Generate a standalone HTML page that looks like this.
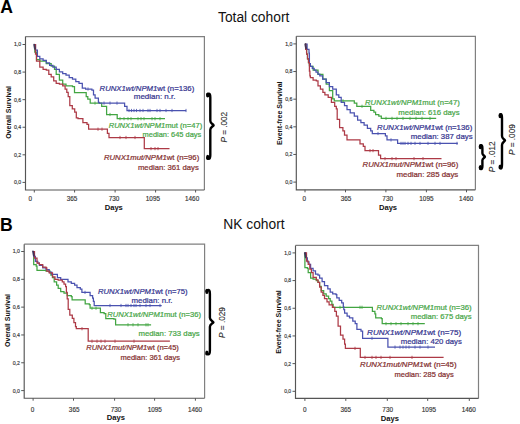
<!DOCTYPE html>
<html><head><meta charset="utf-8"><title>Figure</title>
<style>
html,body{margin:0;padding:0;background:#fff;}
body{width:520px;height:424px;overflow:hidden;}
svg{display:block;}
text{font-family:"Liberation Sans",sans-serif;}
.tk{font-size:6.4px;fill:#333;stroke:#333;stroke-width:0.15px;}
.days{font-size:7.6px;font-weight:bold;fill:#111;}
.ylab{font-size:7px;font-weight:bold;fill:#111;}
.lg{font-size:7.6px;stroke-width:0.22px;}
.pv{font-size:8.2px;fill:#2a2a2a;stroke:#2a2a2a;stroke-width:0.1px;}
.pl{font-size:17.6px;font-weight:bold;fill:#000;}
.ti{font-size:13.8px;fill:#111;}
</style></head>
<body>
<svg width="520" height="424" viewBox="0 0 520 424">
<rect width="520" height="424" fill="#fff"/>
<text x="0.3" y="12.9" class="pl">A</text>
<text x="0.1" y="231.0" class="pl">B</text>
<text x="218" y="21.5" class="ti">Total cohort</text>
<text x="223.3" y="228.5" class="ti">NK cohort</text>
<path d="M25.5 36.6H204.4V190" fill="none" stroke="#808080" stroke-width="1.2"/>
<path d="M25.5 36.6V190H204.4" fill="none" stroke="#555555" stroke-width="1.15"/>
<path d="M22.5 44.5H25.5" stroke="#555555" stroke-width="1"/>
<text x="21.2" y="46.4" text-anchor="end" class="tk" style="font-size:5.2px">1,0</text>
<path d="M22.5 72.08H25.5" stroke="#555555" stroke-width="1"/>
<text x="21.2" y="73.98" text-anchor="end" class="tk" style="font-size:5.2px">0,8</text>
<path d="M22.5 99.66H25.5" stroke="#555555" stroke-width="1"/>
<text x="21.2" y="101.56" text-anchor="end" class="tk" style="font-size:5.2px">0,6</text>
<path d="M22.5 127.24H25.5" stroke="#555555" stroke-width="1"/>
<text x="21.2" y="129.14" text-anchor="end" class="tk" style="font-size:5.2px">0,4</text>
<path d="M22.5 154.82H25.5" stroke="#555555" stroke-width="1"/>
<text x="21.2" y="156.72" text-anchor="end" class="tk" style="font-size:5.2px">0,2</text>
<path d="M22.5 182.4H25.5" stroke="#555555" stroke-width="1"/>
<text x="21.2" y="184.3" text-anchor="end" class="tk" style="font-size:5.2px">0,0</text>
<path d="M34.3 190V192.5" stroke="#555555" stroke-width="1"/>
<text x="30.4" y="200.6" text-anchor="middle" class="tk">0</text>
<path d="M74.6 190V192.5" stroke="#555555" stroke-width="1"/>
<text x="72" y="200.6" text-anchor="middle" class="tk">365</text>
<path d="M115.1 190V192.5" stroke="#555555" stroke-width="1"/>
<text x="114" y="200.6" text-anchor="middle" class="tk">730</text>
<path d="M155.6 190V192.5" stroke="#555555" stroke-width="1"/>
<text x="152.9" y="200.6" text-anchor="middle" class="tk">1095</text>
<path d="M195.6 190V192.5" stroke="#555555" stroke-width="1"/>
<text x="192.1" y="200.6" text-anchor="middle" class="tk">1460</text>
<text x="113.75" y="209.6" text-anchor="middle" class="days">Days</text>
<text transform="translate(11 112.4) rotate(-90)" text-anchor="middle" class="ylab">Overall Survival</text>
<path d="M34.3 44.6H34.8V52H36.5V59.6H39.8V61.2H46.3V63.7H51.2V66.2H54.5V69.4H56.2V74.3H59.4V80H62.7V84.1H66V85.8H72.5V86.6H74.5V92.5H84.5H86.2V96.5H87.8V99H90.2V103.1H100.9H101.7V106.3H105H106.6V114.5H116.4H117.2V118.7H165" fill="none" stroke="#42a542" stroke-width="1.25"/>
<path d="M34.3 44.6H35.5V50H37.4V56.3H39.8V58.8H43.1V60.4H46.3V62.9H49.6V65.3H52.9V67H56.2V69.4H59.4V71.9H62.7V73.5H66V75.1H69.2V77.6H72.5V79.2H75.8V81.7H79V83.3H82.3V88.2H85.6V89H90.5H91.9V90H93.5V94.9H95.1V98.2H98.4V102.3H99.2V103.1H123.7H124.6V106.3H127V110.5H186.2" fill="none" stroke="#4a52b0" stroke-width="1.25"/>
<path d="M34.3 44.6H35.5V54H36.5V61.2H39.8V67H43.1V69.4H46.3V70.2H48.8V74.3H51.2V76.8H53.7V80.9H56.2V83.3H59.4V84.1H62.7V85.8H65.1V89H66.8V92.3H68.2V96.5H69.8V105.5H72.3V108.8H74.7V112.1H76.3V117.8H78V118.6H82.9V122.7H87V124.3H88.6V129.2H105.8H107.4V133.3H109V137.5H143.8H144.3V148.6H169.5" fill="none" stroke="#ad3a46" stroke-width="1.25"/>
<path d="M34.2 44.8L35 48.8" stroke="#3a2f55" stroke-width="2" stroke-linecap="round" opacity="0.85"/>
<path d="M120 117.1v3.2M124 117.1v3.2M128 117.1v3.2M131 117.1v3.2M138 117.1v3.2M141 117.1v3.2M144 117.1v3.2M152 117.1v3.2M155 117.1v3.2M160 117.1v3.2M110 112.9v3.2M95 101.5v3.2" stroke="#42a542" stroke-width="0.9" opacity="0.9"/>
<path d="M129 108.9v3.2M131.5 108.9v3.2M134 108.9v3.2M136.5 108.9v3.2M140 108.9v3.2M143 108.9v3.2M148 108.9v3.2M150 108.9v3.2M157 108.9v3.2M160 108.9v3.2M166 108.9v3.2M172 108.9v3.2M186 108.9v3.2M88 87.4v3.2M104 101.5v3.2M110 101.5v3.2M117 101.5v3.2" stroke="#4a52b0" stroke-width="0.9" opacity="0.9"/>
<path d="M120 135.9v3.2M126 135.9v3.2M135 135.9v3.2M151 147v3.2M155 147v3.2M158 147v3.2M98 127.6v3.2M102 127.6v3.2" stroke="#ad3a46" stroke-width="0.9" opacity="0.9"/>
<path d="M296.3 36.3H475.4V189.8" fill="none" stroke="#808080" stroke-width="1.2"/>
<path d="M296.3 36.3V189.8H475.4" fill="none" stroke="#555555" stroke-width="1.15"/>
<path d="M293.3 43.9H296.3" stroke="#555555" stroke-width="1"/>
<text x="292.4" y="45.8" text-anchor="end" class="tk" style="font-size:5.2px">1,0</text>
<path d="M293.3 71.54H296.3" stroke="#555555" stroke-width="1"/>
<text x="292.4" y="73.44" text-anchor="end" class="tk" style="font-size:5.2px">0,8</text>
<path d="M293.3 99.18H296.3" stroke="#555555" stroke-width="1"/>
<text x="292.4" y="101.08" text-anchor="end" class="tk" style="font-size:5.2px">0,6</text>
<path d="M293.3 126.82H296.3" stroke="#555555" stroke-width="1"/>
<text x="292.4" y="128.72" text-anchor="end" class="tk" style="font-size:5.2px">0,4</text>
<path d="M293.3 154.46H296.3" stroke="#555555" stroke-width="1"/>
<text x="292.4" y="156.36" text-anchor="end" class="tk" style="font-size:5.2px">0,2</text>
<path d="M293.3 182.1H296.3" stroke="#555555" stroke-width="1"/>
<text x="292.4" y="184" text-anchor="end" class="tk" style="font-size:5.2px">0,0</text>
<path d="M305 189.8V192.3" stroke="#555555" stroke-width="1"/>
<text x="304.4" y="200.6" text-anchor="middle" class="tk">0</text>
<path d="M345.5 189.8V192.3" stroke="#555555" stroke-width="1"/>
<text x="346" y="200.6" text-anchor="middle" class="tk">365</text>
<path d="M385.9 189.8V192.3" stroke="#555555" stroke-width="1"/>
<text x="387.7" y="200.6" text-anchor="middle" class="tk">730</text>
<path d="M426.4 189.8V192.3" stroke="#555555" stroke-width="1"/>
<text x="426.4" y="200.6" text-anchor="middle" class="tk">1095</text>
<path d="M466.5 189.8V192.3" stroke="#555555" stroke-width="1"/>
<text x="466.2" y="200.6" text-anchor="middle" class="tk">1460</text>
<text x="388" y="209.6" text-anchor="middle" class="days">Days</text>
<text transform="translate(281.7 113.2) rotate(-90)" text-anchor="middle" class="ylab">Event-free Survival</text>
<path d="M305.2 44.2H305.7V49.4H306.6V54.2H307.5V58.9H308.5V62.6H309.4V65.5H310.4V66.4H313.1V70.2H318V74.3H322.9V79.2H326.2V84.1H329.4V90.7H332.7V98.8H334.3V100.8H352.7H354.3V103.1H356.8V106.3H369H370.7V110.4H373.9V112.1H375.6V114.5H378.8V116.2H381.3V118.4H436.2" fill="none" stroke="#42a542" stroke-width="1.25"/>
<path d="M305.2 44.2H307.1V49.4H309V53.2H309.4V55.1V63.6H310.4V66.4H312.3V68.3H314.2V70.2H316V72.1H317.9V74H319.8V75.8H322.6V79.2H326.2V82.5H329.4V86.6H332.7V89H336.3V94.9H338.8V97.4H341.2V102.3H344.5V105.5H347V109.6H350.2V112.9H354.3V116.2H357.6V120.2H360.9V122.7H364.1V125.1H367.4V128.4H370.7V130.9H372.3V133.5H383.7H385.4V135.8H387V139.9H396H397.6V143.4H457.8" fill="none" stroke="#4a52b0" stroke-width="1.25"/>
<path d="M305.2 44.2H305.7V49.4H306.6V54.2H307.5V58.9H308.5V62.6H309.4V65.5V71.1H309.9V75.8H310.4V77.7H313.1V80H316.3V80.9H318V85.8H320.4V89H322.9V92.3H324.9V94.9H328.2V97.4H331.4V102.3H334.7V106.3H336.3V108.8H337.2V119.4H339.6V127.6H342.9V130.9H344.5V135H347V139.9H359.2H360V143.9H363.3V146.4H365V150.6H376.4H378.5V155H380.6V158.6H441.5" fill="none" stroke="#ad3a46" stroke-width="1.25"/>
<path d="M305.3 44.3L306.1 48.3" stroke="#3a2f55" stroke-width="2" stroke-linecap="round" opacity="0.85"/>
<path d="M386 116.8v3.2M392 116.8v3.2M397 116.8v3.2M403 116.8v3.2M410 116.8v3.2M416 116.8v3.2M422 116.8v3.2M430 116.8v3.2M362 104.7v3.2M343 99.2v3.2" stroke="#42a542" stroke-width="0.9" opacity="0.9"/>
<path d="M401 141.8v3.2M403 141.8v3.2M405 141.8v3.2M408 141.8v3.2M411 141.8v3.2M415 141.8v3.2M420 141.8v3.2M428 141.8v3.2M435 141.8v3.2M440 141.8v3.2M457 141.8v3.2M391 138.3v3.2M378 131.9v3.2" stroke="#4a52b0" stroke-width="0.9" opacity="0.9"/>
<path d="M385 157v3.2M392 157v3.2M396 157v3.2M414 157v3.2M423 157v3.2M370 149v3.2M373 149v3.2" stroke="#ad3a46" stroke-width="0.9" opacity="0.9"/>
<path d="M24.2 244.2H204.6V398.2" fill="none" stroke="#808080" stroke-width="1.2"/>
<path d="M24.2 244.2V398.2H204.6" fill="none" stroke="#555555" stroke-width="1.15"/>
<path d="M21.2 251.5H24.2" stroke="#555555" stroke-width="1"/>
<text x="19.9" y="253.4" text-anchor="end" class="tk" style="font-size:5.2px">1,0</text>
<path d="M21.2 279.32H24.2" stroke="#555555" stroke-width="1"/>
<text x="19.9" y="281.22" text-anchor="end" class="tk" style="font-size:5.2px">0,8</text>
<path d="M21.2 307.14H24.2" stroke="#555555" stroke-width="1"/>
<text x="19.9" y="309.04" text-anchor="end" class="tk" style="font-size:5.2px">0,6</text>
<path d="M21.2 334.96H24.2" stroke="#555555" stroke-width="1"/>
<text x="19.9" y="336.86" text-anchor="end" class="tk" style="font-size:5.2px">0,4</text>
<path d="M21.2 362.78H24.2" stroke="#555555" stroke-width="1"/>
<text x="19.9" y="364.68" text-anchor="end" class="tk" style="font-size:5.2px">0,2</text>
<path d="M21.2 390.6H24.2" stroke="#555555" stroke-width="1"/>
<text x="19.9" y="392.5" text-anchor="end" class="tk" style="font-size:5.2px">0,0</text>
<path d="M33.1 398.2V400.7" stroke="#555555" stroke-width="1"/>
<text x="32.6" y="411.7" text-anchor="middle" class="tk">0</text>
<path d="M73.5 398.2V400.7" stroke="#555555" stroke-width="1"/>
<text x="74.2" y="411.7" text-anchor="middle" class="tk">365</text>
<path d="M114.6 398.2V400.7" stroke="#555555" stroke-width="1"/>
<text x="116" y="411.7" text-anchor="middle" class="tk">730</text>
<path d="M154.6 398.2V400.7" stroke="#555555" stroke-width="1"/>
<text x="154.8" y="411.7" text-anchor="middle" class="tk">1095</text>
<path d="M195.4 398.2V400.7" stroke="#555555" stroke-width="1"/>
<text x="195" y="411.7" text-anchor="middle" class="tk">1460</text>
<text x="115.9" y="420.4" text-anchor="middle" class="days">Days</text>
<text transform="translate(10.4 320.5) rotate(-90)" text-anchor="middle" class="ylab">Overall Survival</text>
<path d="M32.9 251.5H33.7V264.6H36.2V266.2H37V270.3H42.7H46V271.2H50.1V272.8H50.9V275.2H52.5V277.7H54.2V281.8H56.6V285H58.2V288.3H60.7V291.6H64V293.2H67.2V295.7H71.3V296.5H72.1V299.8H84.4H85.2V303.8H89.3V304.5H90.1V308.2H99.9H100.4V312.7H104.1V313.5H105.8V318.6H113.9V319.2H115.6V324.8H151.1" fill="none" stroke="#42a542" stroke-width="1.25"/>
<path d="M32.9 251.5H33.7V256.4H35.4V261.3H37.8V263H39.4V265.4H42.7V267.9H46V269.5H49.2V272H51.7V274.4H55.8H57.4V277.7H60.7V279.3H66.4H68V281.8H71.3V283.4H74.6V285H77V287.5H80.3V289.1H81.9V292.4H88.5H90.1V295.7H92.6V298.1H93.4V301.4H94.2V305.5H161.7" fill="none" stroke="#4a52b0" stroke-width="1.25"/>
<path d="M32.9 251.5H34.5V258.1H37V263H39.4V264.6H42.7V267.1H46V267.9H46.8V271.2H49.2V272.8H52.5V276.9H55V279.3H58.2V280.1H60.7H62.3V281.8H64V284.2H65.6V286.7H66.4V292.4H67.2V298.9H68.2V309.4H69.8V315.1H72.3V318.4H73.9V322.5H75.5V326.6H76.3V328.7H87.5H88.2V341.2H169.9" fill="none" stroke="#ad3a46" stroke-width="1.25"/>
<path d="M33 251.4L33.8 255.4" stroke="#3a2f55" stroke-width="2" stroke-linecap="round" opacity="0.85"/>
<path d="M128 323.2v3.2M133 323.2v3.2M138 323.2v3.2M146 323.2v3.2M148 323.2v3.2M92 306.6v3.2M96 306.6v3.2" stroke="#42a542" stroke-width="0.9" opacity="0.9"/>
<path d="M110 303.9v3.2M121 303.9v3.2M126 303.9v3.2M128 303.9v3.2M131 303.9v3.2M134 303.9v3.2M136 303.9v3.2M140 303.9v3.2M146 303.9v3.2M150 303.9v3.2M160 303.9v3.2M85 290.8v3.2" stroke="#4a52b0" stroke-width="0.9" opacity="0.9"/>
<path d="M92 339.6v3.2M97 339.6v3.2M101 339.6v3.2M105 339.6v3.2M115 339.6v3.2M134 339.6v3.2M82 327.1v3.2" stroke="#ad3a46" stroke-width="0.9" opacity="0.9"/>
<path d="M295.5 245.4H478.5V398.4" fill="none" stroke="#808080" stroke-width="1.2"/>
<path d="M295.5 245.4V398.4H478.5" fill="none" stroke="#555555" stroke-width="1.15"/>
<path d="M292.5 252.9H295.5" stroke="#555555" stroke-width="1"/>
<text x="291.1" y="254.8" text-anchor="end" class="tk" style="font-size:5.0px">1,0</text>
<path d="M292.5 280.58H295.5" stroke="#555555" stroke-width="1"/>
<text x="291.1" y="282.48" text-anchor="end" class="tk" style="font-size:5.0px">0,8</text>
<path d="M292.5 308.26H295.5" stroke="#555555" stroke-width="1"/>
<text x="291.1" y="310.16" text-anchor="end" class="tk" style="font-size:5.0px">0,6</text>
<path d="M292.5 335.94H295.5" stroke="#555555" stroke-width="1"/>
<text x="291.1" y="337.84" text-anchor="end" class="tk" style="font-size:5.0px">0,4</text>
<path d="M292.5 363.62H295.5" stroke="#555555" stroke-width="1"/>
<text x="291.1" y="365.52" text-anchor="end" class="tk" style="font-size:5.0px">0,2</text>
<path d="M292.5 391.3H295.5" stroke="#555555" stroke-width="1"/>
<text x="291.1" y="393.2" text-anchor="end" class="tk" style="font-size:5.0px">0,0</text>
<path d="M304.9 398.4V400.9" stroke="#555555" stroke-width="1"/>
<text x="304.9" y="411.7" text-anchor="middle" class="tk">0</text>
<path d="M345.8 398.4V400.9" stroke="#555555" stroke-width="1"/>
<text x="345.8" y="411.7" text-anchor="middle" class="tk">365</text>
<path d="M387.3 398.4V400.9" stroke="#555555" stroke-width="1"/>
<text x="387.7" y="411.7" text-anchor="middle" class="tk">730</text>
<path d="M427.7 398.4V400.9" stroke="#555555" stroke-width="1"/>
<text x="428.9" y="411.7" text-anchor="middle" class="tk">1095</text>
<path d="M469.3 398.4V400.9" stroke="#555555" stroke-width="1"/>
<text x="468.8" y="411.7" text-anchor="middle" class="tk">1460</text>
<text x="389.9" y="420.5" text-anchor="middle" class="days">Days</text>
<text transform="translate(281.3 322) rotate(-90)" text-anchor="middle" class="ylab">Event-free Survival</text>
<path d="M304.9 252.9V267.6H307.4V268.4H308.2V272.5H310.6V278.2H313.1V279.1H316.3V280.7H318V282.3H319.6V286.4H321.2V290.5H323.7V293.8H326.2V296.2H328.6V298.7H330.2V301.1H331.9V304.4H333.2V307.3H371.6H372.4V311.3H374.9V313.8H375.7V317.9H381.4V318.7H382.2V323.7H424.8" fill="none" stroke="#42a542" stroke-width="1.25"/>
<path d="M304.9 252.9H305.7V257.8H307.4V261.9H309V264.3H310.6V268.4H313.1V270.9H315.5V274.2H318V275H319.6V278.2H322.1V281.5H324.5V285.6H327.8V288.9H330.2V292.1H332.7V293.8H336V294.6H336.8V297.9H339.2V300.3H341.7V302.8H343.3V306.8H343.8V309.7H344.6V313H347.1V316.2H349.5V317.9H352.8V321.2H355.2V323.6H356.9V329.3H361V331H362.6V338.3H387.1H387.9V347.1H435" fill="none" stroke="#4a52b0" stroke-width="1.25"/>
<path d="M304.9 252.9H306.5V261.1H308.2V264.3H309.8V269.2H311.4V272.5H313.1V277.4H316.3V279.9H318V282.3H319.6V287.2H321.2V292.1H322.9V295.4H324.5V298.7H327V301.9H329.1V304.8H332.4V307.3H334.8V311.3H336.4V316.2H338.1V326.1H340.5V335H343V339.1H344.6V344H345.4V348.4H359.3H360.3V357.4H443.6" fill="none" stroke="#ad3a46" stroke-width="1.25"/>
<path d="M304.9 253L305.7 257" stroke="#3a2f55" stroke-width="2" stroke-linecap="round" opacity="0.85"/>
<path d="M386 322.1v3.2M391 322.1v3.2M396 322.1v3.2M401 322.1v3.2M408 322.1v3.2M413 322.1v3.2M418 322.1v3.2M340 305.7v3.2M360 305.7v3.2M362 305.7v3.2" stroke="#42a542" stroke-width="0.9" opacity="0.9"/>
<path d="M395 345.5v3.2M400 345.5v3.2M403 345.5v3.2M406 345.5v3.2M409 345.5v3.2M415 345.5v3.2M420 345.5v3.2M428 345.5v3.2M372 336.7v3.2" stroke="#4a52b0" stroke-width="0.9" opacity="0.9"/>
<path d="M365 355.8v3.2M372 355.8v3.2M376 355.8v3.2M381 355.8v3.2M390 355.8v3.2M412 355.8v3.2M355 346.8v3.2" stroke="#ad3a46" stroke-width="0.9" opacity="0.9"/>
<text id="lg0" x="99.55" y="90.9" fill="#35358f" stroke="#35358f" class="lg" textLength="94.7" lengthAdjust="spacingAndGlyphs"><tspan font-style="italic">RUNX1wt/NPM1</tspan>wt (n=136)</text>
<text id="lg1" x="133.75" y="99.3" fill="#35358f" stroke="#35358f" class="lg" textLength="41.7" lengthAdjust="spacingAndGlyphs">median: n.r.</text>
<text id="lg2" x="108.65" y="127.9" fill="#48a648" stroke="#48a648" class="lg" textLength="93.6" lengthAdjust="spacingAndGlyphs"><tspan font-style="italic">RUNX1wt/NPM1</tspan>mut (n=47)</text>
<text id="lg3" x="142.55" y="136.6" fill="#48a648" stroke="#48a648" class="lg" textLength="58.7" lengthAdjust="spacingAndGlyphs">median: 645 days</text>
<text id="lg4" x="103.95" y="160.2" fill="#843030" stroke="#843030" class="lg" textLength="95.3" lengthAdjust="spacingAndGlyphs"><tspan font-style="italic">RUNX1mut/NPM1</tspan>wt (n=96)</text>
<text id="lg5" x="137.95" y="169.5" fill="#843030" stroke="#843030" class="lg" textLength="60.9" lengthAdjust="spacingAndGlyphs">median: 361 days</text>
<text id="lg6" x="365.05" y="105.4" fill="#48a648" stroke="#48a648" class="lg" textLength="94.7" lengthAdjust="spacingAndGlyphs"><tspan font-style="italic">RUNX1wt/NPM1</tspan>mut (n=47)</text>
<text id="lg7" x="398.35" y="114.7" fill="#48a648" stroke="#48a648" class="lg" textLength="61.2" lengthAdjust="spacingAndGlyphs">median: 616 days</text>
<text id="lg8" x="377.05" y="130.2" fill="#35358f" stroke="#35358f" class="lg" textLength="95.2" lengthAdjust="spacingAndGlyphs"><tspan font-style="italic">RUNX1wt/NPM1</tspan>wt (n=136)</text>
<text id="lg9" x="410.85" y="139.1" fill="#35358f" stroke="#35358f" class="lg" textLength="61.8" lengthAdjust="spacingAndGlyphs">median: 387 days</text>
<text id="lg10" x="362.55" y="166.9" fill="#843030" stroke="#843030" class="lg" textLength="95.7" lengthAdjust="spacingAndGlyphs"><tspan font-style="italic">RUNX1mut/NPM1</tspan>wt (n=96)</text>
<text id="lg11" x="396.55" y="176.9" fill="#843030" stroke="#843030" class="lg" textLength="61.7" lengthAdjust="spacingAndGlyphs">median: 285 days</text>
<text id="lg12" x="97.95" y="293.7" fill="#35358f" stroke="#35358f" class="lg" textLength="89.6" lengthAdjust="spacingAndGlyphs"><tspan font-style="italic">RUNX1wt/NPM1</tspan>wt (n=75)</text>
<text id="lg13" x="131.55" y="302.6" fill="#35358f" stroke="#35358f" class="lg" textLength="41" lengthAdjust="spacingAndGlyphs">median: n.r.</text>
<text id="lg14" x="107.25" y="316.5" fill="#48a648" stroke="#48a648" class="lg" textLength="93.8" lengthAdjust="spacingAndGlyphs"><tspan font-style="italic">RUNX1wt/NPM1</tspan>mut (n=36)</text>
<text id="lg15" x="138.45" y="335.6" fill="#48a648" stroke="#48a648" class="lg" textLength="61.3" lengthAdjust="spacingAndGlyphs">median: 733 days</text>
<text id="lg16" x="86.25" y="349.8" fill="#843030" stroke="#843030" class="lg" textLength="92.6" lengthAdjust="spacingAndGlyphs"><tspan font-style="italic">RUNX1mut/NPM1</tspan>wt (n=45)</text>
<text id="lg17" x="120.45" y="359.6" fill="#843030" stroke="#843030" class="lg" textLength="59.6" lengthAdjust="spacingAndGlyphs">median: 361 days</text>
<text id="lg18" x="376.55" y="309.9" fill="#48a648" stroke="#48a648" class="lg" textLength="95" lengthAdjust="spacingAndGlyphs"><tspan font-style="italic">RUNX1wt/NPM1</tspan>mut (n=36)</text>
<text id="lg19" x="410.85" y="318.5" fill="#48a648" stroke="#48a648" class="lg" textLength="60.7" lengthAdjust="spacingAndGlyphs">median: 675 days</text>
<text id="lg20" x="367.05" y="334.9" fill="#35358f" stroke="#35358f" class="lg" textLength="94.2" lengthAdjust="spacingAndGlyphs"><tspan font-style="italic">RUNX1wt/NPM1</tspan>wt (n=75)</text>
<text id="lg21" x="400.85" y="344.4" fill="#35358f" stroke="#35358f" class="lg" textLength="60.9" lengthAdjust="spacingAndGlyphs">median: 420 days</text>
<text id="lg22" x="360.05" y="367.4" fill="#843030" stroke="#843030" class="lg" textLength="96.5" lengthAdjust="spacingAndGlyphs"><tspan font-style="italic">RUNX1mut/NPM1</tspan>wt (n=45)</text>
<text id="lg23" x="394.55" y="376.7" fill="#843030" stroke="#843030" class="lg" textLength="59.2" lengthAdjust="spacingAndGlyphs">median: 285 days</text>
<g id="br1"><path d="M207.6 94.2C209.7 92.6 210.3 94.5 210.3 97.5L210.3 120.8C210.3 123.5 212.8 123.9 213.6 125.3C212.8 126.7 210.3 127.1 210.3 129.8L210.3 154.9C210.3 157.9 209.7 159.8 207.6 158.2" fill="none" stroke="#000" stroke-width="2.4" stroke-linecap="round" stroke-linejoin="round"/><ellipse cx="207.7" cy="95" rx="1.7" ry="2.6" fill="#000"/><ellipse cx="207.7" cy="157.4" rx="1.7" ry="2.6" fill="#000"/></g>
<text id="p002" transform="translate(227.1 127.2) rotate(-90)" text-anchor="middle" class="pv"><tspan font-style="italic">P</tspan> = .002</text>
<g id="br2"><path d="M480.3 145.9C481.8 144.3 482.4 146.2 482.4 148.26L482.4 153.24C482.4 155 484.1 155.4 484.9 156.8C484.1 158.2 482.4 158.6 482.4 160.36L482.4 166.04C482.4 168.1 481.8 170 480.3 168.4" fill="none" stroke="#000" stroke-width="2.4" stroke-linecap="round" stroke-linejoin="round"/><ellipse cx="480.4" cy="146.7" rx="1.7" ry="2.6" fill="#000"/><ellipse cx="480.4" cy="167.6" rx="1.7" ry="2.6" fill="#000"/></g>
<text id="p012" transform="translate(495.4 156.8) rotate(-90)" text-anchor="middle" class="pv"><tspan font-style="italic">P</tspan> = .012</text>
<g id="br3"><path d="M500.1 114.9C501.4 113.3 502 115.2 502 118.2L502 136C502 138.7 504.2 139.1 505 140.5C504.2 141.9 502 142.3 502 145L502 164.5C502 167.5 501.4 169.4 500.1 167.8" fill="none" stroke="#000" stroke-width="2.4" stroke-linecap="round" stroke-linejoin="round"/><ellipse cx="500.2" cy="115.7" rx="1.7" ry="2.6" fill="#000"/><ellipse cx="500.2" cy="167" rx="1.7" ry="2.6" fill="#000"/></g>
<text id="p009" transform="translate(515.4 139.6) rotate(-90)" text-anchor="middle" class="pv"><tspan font-style="italic">P</tspan> = .009</text>
<g id="br4"><path d="M206.8 290.6C209.3 289 209.9 290.9 209.9 293.9L209.9 317.8C209.9 320.5 212.6 320.9 213.4 322.3C212.6 323.7 209.9 324.1 209.9 326.8L209.9 350.5C209.9 353.5 209.3 355.4 206.8 353.8" fill="none" stroke="#000" stroke-width="2.4" stroke-linecap="round" stroke-linejoin="round"/><ellipse cx="206.9" cy="291.4" rx="1.7" ry="2.6" fill="#000"/><ellipse cx="206.9" cy="353" rx="1.7" ry="2.6" fill="#000"/></g>
<text id="p029" transform="translate(225.3 322.5) rotate(-90)" text-anchor="middle" class="pv"><tspan font-style="italic">P</tspan> = .029</text>
</svg>
</body></html>
